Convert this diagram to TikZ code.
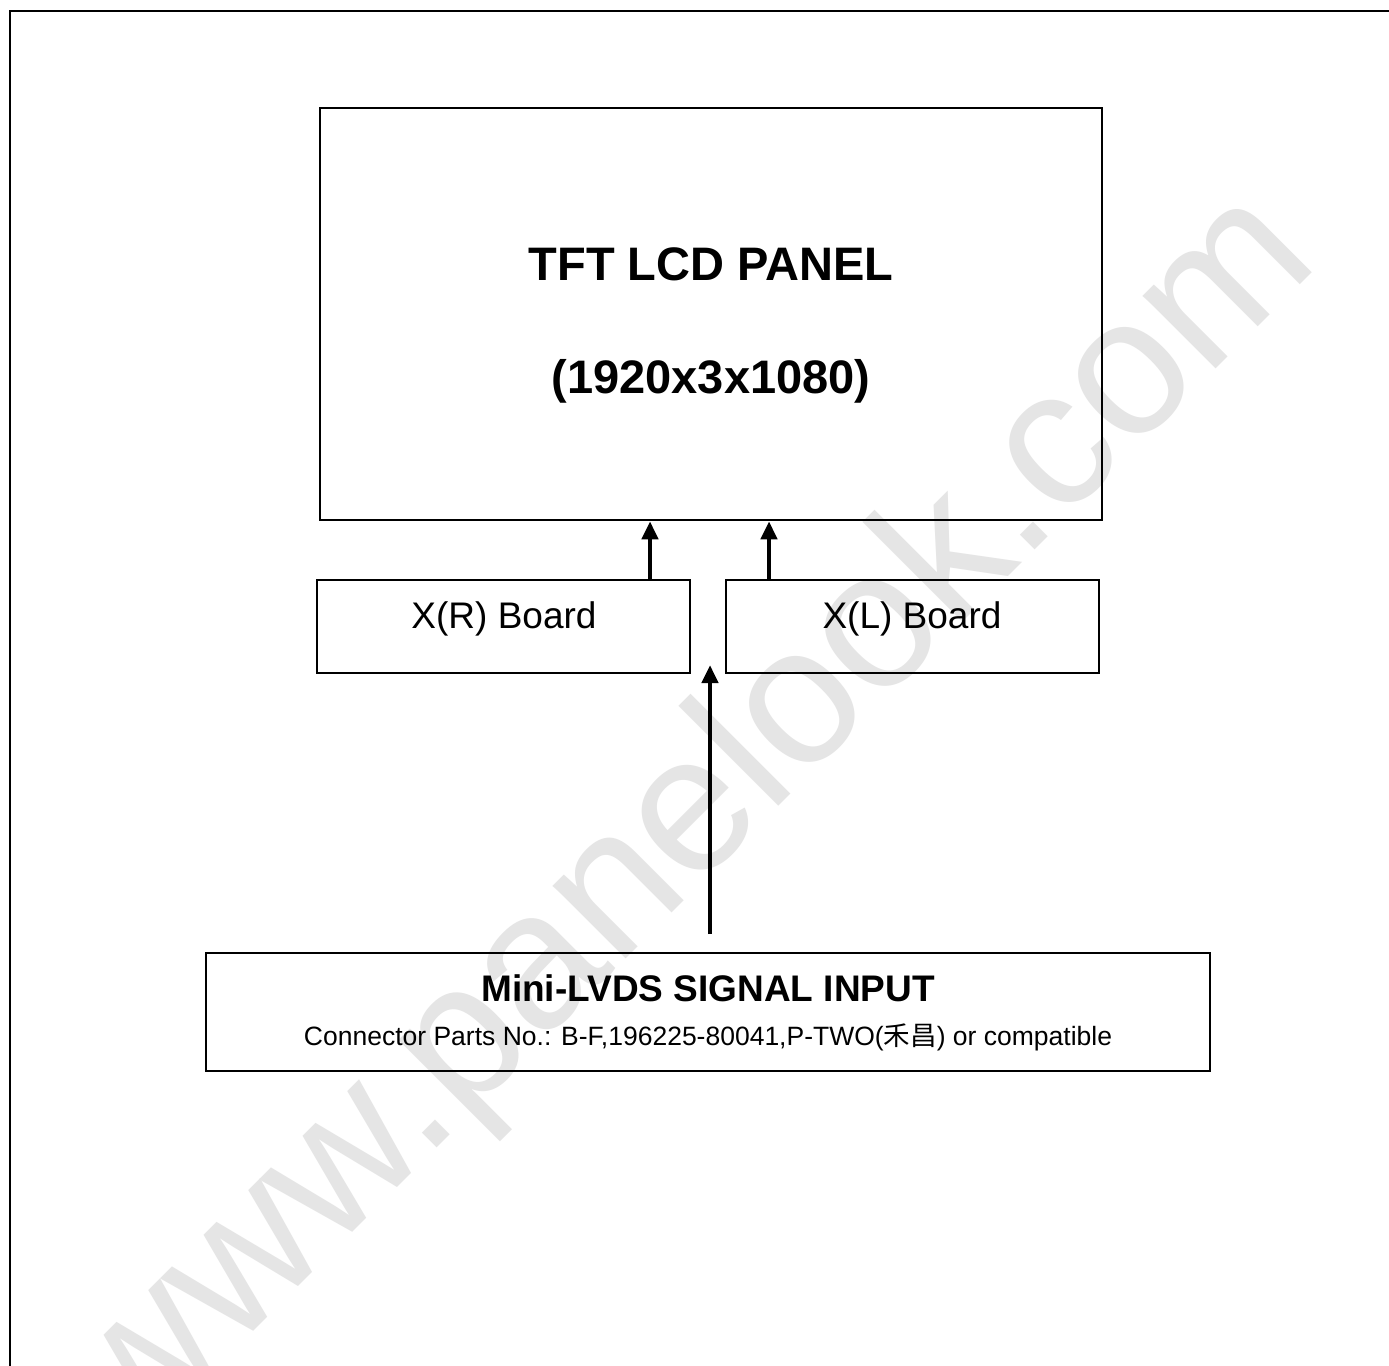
\documentclass[tikz,border=0pt]{standalone}
\usepackage{fontspec}
\setmainfont{Liberation Sans}
\newfontfamily\cjkfont{Noto Sans CJK TC}
\usetikzlibrary{arrows.meta,calc}
\begin{document}
\begin{tikzpicture}[x=1pt,y=-1pt,
  box/.style={draw, line width=2pt, inner sep=0pt, fill=none},
  sig/.style={line width=4.5pt, -{Triangle[length=18pt,width=16pt]}},
  lbl/.style={anchor=base, inner sep=0pt}]
\clip (0,0) rectangle (1389,1365);
\fill[white] (0,0) rectangle (1389,1365);
% watermark
\node[rotate=45, anchor=base, text=black!10, inner sep=0pt,
      font=\fontsize{195}{200}\selectfont] (wm) at (727.5,857.5) {www.panelook.com};
% outer frame (right and bottom sides lie beyond the page)
\draw[line width=2pt] (10,1400) -- (10,11) -- (1420,11);
% boxes
\node[box, line width=2.5pt, minimum width=782pt, minimum height=412pt] (lcd) at (711,314) {};
\node[box, minimum width=373pt, minimum height=93pt] (xr) at (503.5,626.5) {};
\node[box, minimum width=373pt, minimum height=93pt] (xl) at (912.5,626.5) {};
\node[box, minimum width=1004pt, minimum height=118pt] (inbox) at (708,1012) {};
% texts
\node[lbl, font=\fontsize{47}{56}\selectfont\bfseries] (t1) at (711,280) {TFT LCD PANEL};
\node[lbl, font=\fontsize{47}{56}\selectfont\bfseries] (t2) at (711,393) {(1920x3x1080)};
\node[lbl, font=\fontsize{37}{44}\selectfont] (txr) at (504,628) {X(R) Board};
\node[lbl, font=\fontsize{37}{44}\selectfont] (txl) at (912,628) {X(L) Board};
\node[lbl, font=\fontsize{37}{44}\selectfont\bfseries] (tin) at (708,1001) {Mini-LVDS SIGNAL INPUT};
\node[lbl, font=\fontsize{26.5}{32}\selectfont] (tcon) at (708,1045)
  {Connector Parts No.: B-F,196225-80041,P-TWO({\cjkfont 禾昌}) or compatible};
% connectors
\coordinate (tipc) at (710,665);
\draw[sig] (xr.north -| 650,0) -- (lcd.south -| 650,0);
\draw[sig] (xl.north -| 769,0) -- (lcd.south -| 769,0);
\draw[sig] ($(inbox.north -| tipc)+(0,-18)$) -- (tipc);
\end{tikzpicture}
\end{document}
